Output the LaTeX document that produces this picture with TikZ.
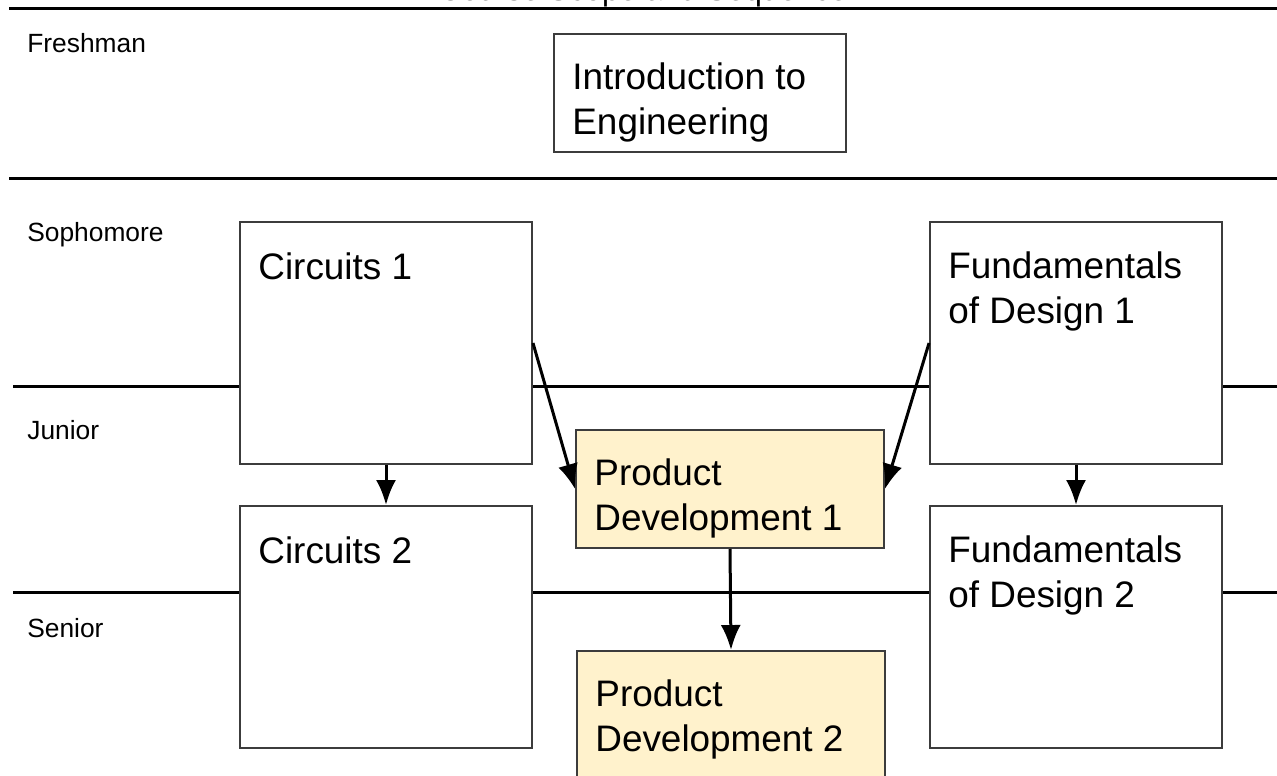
\documentclass[tikz,border=0pt]{standalone}
\usepackage{fontspec}
\setmainfont{Liberation Sans}
\usetikzlibrary{arrows.meta,positioning}
\definecolor{pdfill}{HTML}{FFF2CC}
\definecolor{boxline}{HTML}{3C3C3C}
\tikzset{
  course/.style={draw=boxline,line width=0.04cm,fill=white,inner sep=0pt},
  coursetext/.style={anchor=base west,align=left,inner sep=0pt,font=\fontsize{21}{25.6}\selectfont},
  yearlabel/.style={anchor=base west,inner sep=0pt,font=\fontsize{15}{17}\selectfont},
  yearline/.style={line width=0.06cm},
  prereq/.style={line width=0.06cm,-{Latex[length=0.5cm,width=0.4cm]}}
}
\begin{document}
\begin{tikzpicture}[x=0.02cm,y=-0.02cm]
    \clip (0,0) rectangle (1277,775);
    % title, mostly cut off at the top
    \node[anchor=base,inner sep=0pt,font=\fontsize{17.8}{20}\selectfont] (title) at (643,0) {Course Scope and Sequence};
    % year rows
    \draw [yearline] (9,8) -- (1277,8);
    \draw [yearline] (9,178) -- (1277,178);
    \draw [yearline] (13,386) -- (1277,386);
    \draw [yearline] (13,592) -- (1277,592);
    \node[yearlabel] (fresh) at (27,52) {Freshman};
    \node[yearlabel] (soph) at (27,241) {Sophomore};
    \node[yearlabel] (jun) at (27,439) {Junior};
    \node[yearlabel] (sen) at (27,637) {Senior};
    % courses
    \node[course,minimum width=5.84cm,minimum height=2.36cm] (intro) at (700,93) {};
    \node[course,minimum width=5.84cm,minimum height=4.84cm] (circ1) at (386,343) {};
    \node[course,minimum width=5.84cm,minimum height=4.84cm] (circ2) at (386,627) {};
    \node[course,minimum width=5.84cm,minimum height=4.84cm] (fund1) at (1076,343) {};
    \node[course,minimum width=5.84cm,minimum height=4.84cm] (fund2) at (1076,627) {};
    \node[course,fill=pdfill,minimum width=6.16cm,minimum height=2.36cm] (pd1) at (730,489) {};
    \node[course,fill=pdfill,minimum width=6.16cm,minimum height=3.2cm] (pd2) at (731,731) {};
    % base of a two-line text is its last line
    \node[coursetext] (introt) at ([shift={(19,101)}]intro.north west) {Introduction to\\Engineering};
    \node[coursetext] (circ1t) at ([shift={(19,58)}]circ1.north west) {Circuits 1};
    \node[coursetext] (circ2t) at ([shift={(19,58)}]circ2.north west) {Circuits 2};
    \node[coursetext] (fund1t) at ([shift={(19,102)}]fund1.north west) {Fundamentals\\of Design 1};
    \node[coursetext] (fund2t) at ([shift={(19,102)}]fund2.north west) {Fundamentals\\of Design 2};
    \node[coursetext] (pd1t) at ([shift={(19,101)}]pd1.north west) {Product\\Development 1};
    \node[coursetext] (pd2t) at ([shift={(19,101)}]pd2.north west) {Product\\Development 2};
    % prerequisites
    \draw [prereq] (circ1.south) -- (circ2.north);
    \draw [prereq] (fund1.south) -- (fund2.north);
    \draw [prereq] (circ1.east) -- (pd1.west);
    \draw [prereq] (fund1.west) -- (pd1.east);
    \draw [prereq] (pd1.south) -- (pd2.north);
\end{tikzpicture}
\end{document}
